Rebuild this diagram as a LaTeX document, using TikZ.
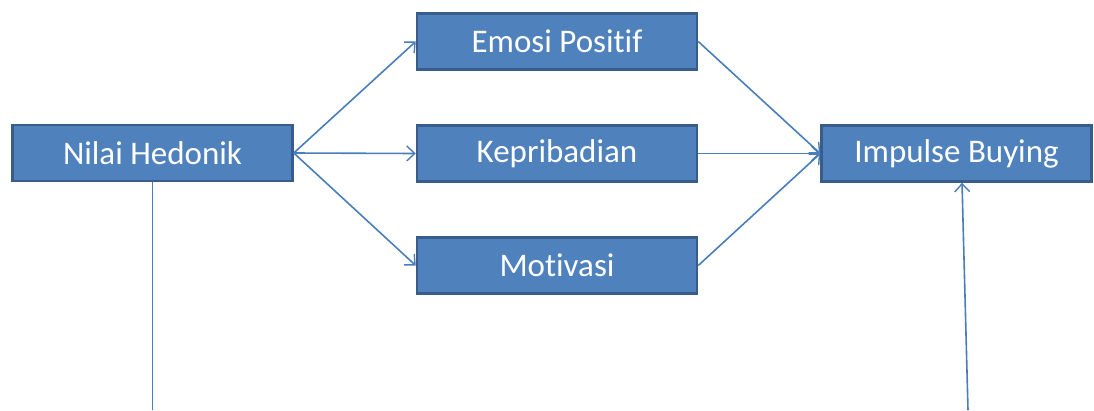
\documentclass[tikz,border=0pt]{standalone}
\usepackage{fontspec}
\setmainfont{Carlito}[RawFeature=-liga]
\usetikzlibrary{arrows.meta}
\definecolor{boxfill}{HTML}{4F81BD}
\definecolor{boxline}{HTML}{385D8A}
\definecolor{conn}{HTML}{4A7EBB}
\begin{document}
\begin{tikzpicture}[x=1pt,y=-1pt,
  box/.style={draw=boxline, line width=2.5pt, fill=boxfill, text=white,
    minimum width=280pt, minimum height=56pt, inner sep=0pt,
    font=\fontsize{33}{40}\selectfont},
  conn/.style={draw=conn, line width=1.6pt},
  arr/.style={conn, -{Straight Barb[length=8pt,width=15pt,line width=1.4pt]}}]
\useasboundingbox (0,0) rectangle (1094,410);
\node[box] (nh) at (152.5,153) {Nilai Hedonik};
\node[box] (ep) at (557,41.5) {Emosi Positif};
\node[box] (kp) at (557,153.5) {Kepribadian};
\node[box] (mo) at (557,265.5) {Motivasi};
\node[box, minimum width=270pt] (ib) at (956.5,153.5) {Impulse Buying};
\coordinate (b1) at (152.5,410);
\coordinate (b2) at (968,410);
\draw[arr] (nh.east) -- (ep.west);
\draw[arr] (nh.east) -- (kp.west);
\draw[arr] (nh.east) -- (mo.west);
\draw[arr] (ep.east) -- (ib.west);
\draw[arr] (kp.east) -- (ib.west);
\draw[arr] (mo.east) -- (ib.west);
\draw[conn] (nh.south) -- (b1);
\draw[arr] (b2) -- (ib.south -| 962,0);
\end{tikzpicture}
\end{document}
